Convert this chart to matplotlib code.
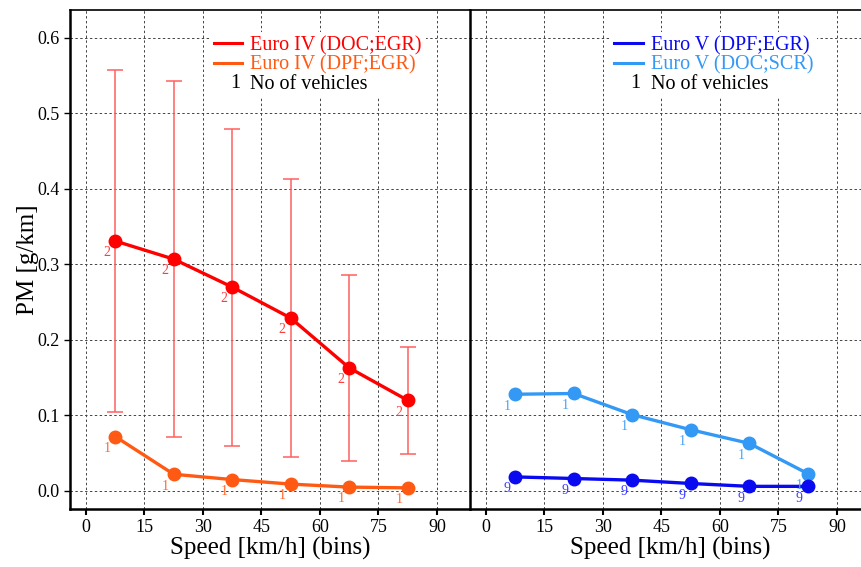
import matplotlib
matplotlib.use("Agg")
import matplotlib.pyplot as plt
from matplotlib.lines import Line2D
from matplotlib.legend_handler import HandlerBase
from matplotlib.text import Text

# -------------------
# DATA
# -------------------
speed_bins = [7.5, 22.5, 37.5, 52.5, 67.5, 82.5]

euro4_doc_egr = [0.331, 0.307, 0.270, 0.229, 0.163, 0.120]
euro4_doc_egr_err = [0.227, 0.236, 0.210, 0.184, 0.123, 0.071]
euro4_doc_egr_n = ["2", "2", "2", "2", "2", "2"]

euro4_dpf_egr = [0.072, 0.022, 0.015, 0.009, 0.005, 0.004]
euro4_dpf_egr_n = ["1", "1", "1", "1", "1", "1"]

euro5_dpf_egr = [0.0185, 0.0164, 0.0142, 0.0098, 0.006, 0.006]
euro5_dpf_egr_n = ["9", "9", "9", "9", "9", "9"]

euro5_doc_scr = [0.128, 0.129, 0.101, 0.081, 0.063, 0.023]
euro5_doc_scr_n = ["1", "1", "1", "1", "1", "1"]

x_ticks = [0, 15, 30, 45, 60, 75, 90]
y_ticks = [0.0, 0.1, 0.2, 0.3, 0.4, 0.5, 0.6]

plt.rcParams["font.family"] = ["Liberation Serif", "DejaVu Serif"]


class TextHandler(HandlerBase):
    # draws a "1" as the legend key for the vehicle count entry
    def create_artists(self, legend, orig_handle, xdescent, ydescent,
                       width, height, fontsize, trans):
        t = Text(width * 0.75, height / 2 - ydescent - 1, "1", fontsize=fontsize,
                 ha="center", va="center", color="black", transform=trans)
        return [t]


def style_axes(ax, show_yticklabels):
    ax.set_xlim(-4.1, 98.5)
    ax.set_ylim(-0.024, 0.637)
    ax.set_xticks(x_ticks)
    ax.set_yticks(y_ticks)
    ax.set_xticklabels([str(v) for v in x_ticks], fontsize=13)
    if show_yticklabels:
        ax.set_yticklabels([f"{v:.1f}" for v in y_ticks], fontsize=13)
        ax.tick_params(axis="y", direction="out", length=4, width=1)
    else:
        ax.tick_params(axis="y", length=0, labelleft=False)
    ax.tick_params(axis="x", direction="out", length=4, width=1.5, pad=3)
    ax.grid(True, linestyle=(0, (2.5, 2.5)), color="#444444", linewidth=0.7)
    ax.set_axisbelow(True)
    for s in ["left", "bottom"]:
        ax.spines[s].set_linewidth(1.8)
    ax.spines["top"].set_linewidth(1.2)
    ax.spines["right"].set_visible(False)
    ax.set_xlabel("Speed [km/h] (bins)", fontsize=18, labelpad=1)


def add_counts(ax, xs, ys, labels, color):
    for x, y, lab in zip(xs, ys, labels):
        ax.annotate(lab, (x, y), xytext=(-6, -8.5), textcoords="offset points",
                    fontsize=10, color=color, ha="center", va="center")


def add_legend(ax, c1, l1, c2, l2, anchor):
    handles = [Line2D([], [], color=c1, lw=2.2),
               Line2D([], [], color=c2, lw=2.2),
               "count"]
    labels = [l1, l2, "No of vehicles"]
    leg = ax.legend(handles, labels, loc="upper right", bbox_to_anchor=anchor,
                    fontsize=14.5, frameon=True, framealpha=1, edgecolor="none",
                    handlelength=1.4, handletextpad=0.4, labelspacing=0.0,
                    borderpad=0.2, handler_map={str: TextHandler()})
    for txt, col in zip(leg.get_texts(), [c1, c2, "black"]):
        txt.set_color(col)


fig = plt.figure(figsize=(8.62, 5.67), dpi=100)
W, H = 862, 567
ax1 = fig.add_axes([70 / W, (H - 509) / H, 400 / W, 499 / H])
ax2 = fig.add_axes([470 / W, (H - 509) / H, 400 / W, 499 / H])

red = "#ff0000"
orange = "#ff5a14"
blue = "#0a0af0"
light_blue = "#3399f5"

# left panel: Euro IV
ax1.errorbar(speed_bins, euro4_doc_egr, yerr=euro4_doc_egr_err, fmt="none",
             ecolor="#ff6060", elinewidth=1.1, capsize=6, capthick=1.1, zorder=2)
ax1.plot(speed_bins, euro4_doc_egr, "-o", color=red, lw=2.4, ms=9, zorder=3)
ax1.plot(speed_bins, euro4_dpf_egr, "-o", color=orange, lw=2.4, ms=9, zorder=3)
add_counts(ax1, speed_bins, euro4_doc_egr, euro4_doc_egr_n, "#ff3c3c")
add_counts(ax1, speed_bins, euro4_dpf_egr, euro4_dpf_egr_n, "#ff6a30")
style_axes(ax1, True)
ax1.set_ylabel("PM [g/km]", fontsize=18, labelpad=-1)
add_legend(ax1, red, "Euro IV (DOC;EGR)", orange, "Euro IV (DPF;EGR)",
           (0.915, 0.976))

# right panel: Euro V
ax2.plot(speed_bins, euro5_doc_scr, "-o", color=light_blue, lw=2.4, ms=9, zorder=3)
ax2.plot(speed_bins, euro5_dpf_egr, "-o", color=blue, lw=2.4, ms=9, zorder=3)
add_counts(ax2, speed_bins, euro5_doc_scr, euro5_doc_scr_n, "#4aa4f5")
add_counts(ax2, speed_bins, euro5_dpf_egr, euro5_dpf_egr_n, "#3c3cff")
style_axes(ax2, False)
add_legend(ax2, blue, "Euro V (DPF;EGR)", light_blue, "Euro V (DOC;SCR)",
           (0.893, 0.976))

fig.savefig("out.png", dpi=100)
